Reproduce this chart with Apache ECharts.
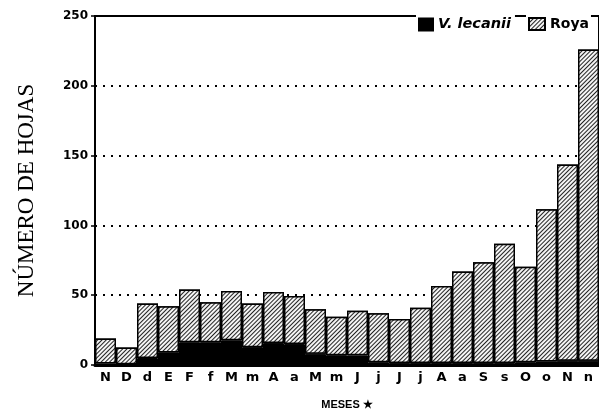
<!DOCTYPE html>
<html>
<head>
    <meta charset="UTF-8">
    <title>hojas</title>
    <script src="https://cdn.jsdelivr.net/npm/echarts@6/dist/echarts.min.js"></script>
</head>
<body style="margin:0;background:#fff">
<div id="chartDom" style="width:599px;height:415px"></div>
<script type="text/javascript">
    // meses (categorias) y valores
    var meses = ['N','D','d','E','F','f','M','m','A','a','M','m','J','j','J','j','A','a','S','s','O','o','N','n'];
    var totalHojas = [19, 12.5, 44, 42, 54, 45, 53, 44, 52.3, 49.5, 40, 34.6, 38.8, 37, 33, 41, 56.6, 67, 73.6, 86.9, 70.3, 111.5, 143.7, 226];
    var lecanii = [1, 0.5, 5, 9, 16.3, 16.3, 17.7, 12.8, 15.8, 15, 8, 7, 6.9, 2, 1.5, 1.5, 1.5, 1.5, 1.5, 1.5, 2, 2.5, 3, 3];
    var yTicks = [0, 50, 100, 150, 200, 250];

    // la parte rayada es el resto sobre la negra
    var roya = totalHojas.map(function (t, i) { return +(t - lecanii[i]).toFixed(1); });

    var hatch = {
        symbol: 'rect',
        color: '#222',
        backgroundColor: '#f4f4f4',
        dashArrayX: [1, 0],
        dashArrayY: [1, 1.6],
        rotation: -Math.PI / 4
    };

    var boldFont = 'DejaVu Sans';

    var myChart = echarts.init(document.getElementById('chartDom'));
    var option = {
        animation: false,
        grid: {
            left: 95, right: 0, top: 16, bottom: 47,
            show: true, borderColor: '#000', borderWidth: 2
        },
        legend: [{
            data: ['V. lecanii'],
            icon: 'rect',
            left: 416, top: 15,
            itemWidth: 14, itemHeight: 12, itemGap: 4,
            backgroundColor: '#fff', padding: [2, 4, 1, 2],
            textStyle: { fontFamily: boldFont, fontWeight: 'bold', fontStyle: 'italic', fontSize: 14.5, color: '#000' }
        }, {
            data: ['Roya'],
            icon: 'rect',
            left: 526, top: 15,
            itemWidth: 16, itemHeight: 12, itemGap: 4,
            backgroundColor: '#fff', padding: [2, 2, 1, 2],
            textStyle: { fontFamily: boldFont, fontWeight: 'bold', fontSize: 14, color: '#000' }
        }],
        xAxis: {
            type: 'category',
            data: meses,
            name: 'MESES ★',
            nameLocation: 'middle',
            nameGap: 34,
            nameTextStyle: { fontFamily: 'Liberation Sans', fontWeight: 'bold', fontSize: 11, color: '#000' },
            axisLine: { lineStyle: { color: '#000', width: 3 } },
            axisTick: { show: false },
            axisLabel: { fontFamily: boldFont, fontWeight: 'bold', fontSize: 13, color: '#000', margin: 6 }
        },
        yAxis: {
            type: 'value',
            min: yTicks[0], max: yTicks[yTicks.length - 1], interval: 50,
            name: 'NÚMERO DE HOJAS',
            nameLocation: 'middle',
            nameGap: 57,
            nameRotate: 90,
            nameTextStyle: { fontFamily: 'Liberation Serif', fontSize: 23, color: '#000' },
            axisLine: { show: true, lineStyle: { color: '#000', width: 2 } },
            axisTick: { show: true, length: 4, lineStyle: { color: '#000', width: 1.5 } },
            axisLabel: { fontFamily: boldFont, fontWeight: 'bold', fontSize: 12, color: '#000', margin: 7 },
            splitLine: { show: true, lineStyle: { color: '#000', type: [2, 6], width: 2 } }
        },
        series: [{
            name: 'V. lecanii',
            type: 'bar',
            stack: 'h',
            barCategoryGap: 0,
            data: lecanii,
            itemStyle: { color: '#000', borderColor: '#000', borderWidth: 1 }
        }, {
            name: 'Roya',
            type: 'bar',
            stack: 'h',
            barCategoryGap: 0,
            data: roya,
            itemStyle: { color: '#f4f4f4', borderColor: '#000', borderWidth: 1.5, decal: hatch }
        }]
    };
    myChart.setOption(option);
</script>
</body>
</html>
